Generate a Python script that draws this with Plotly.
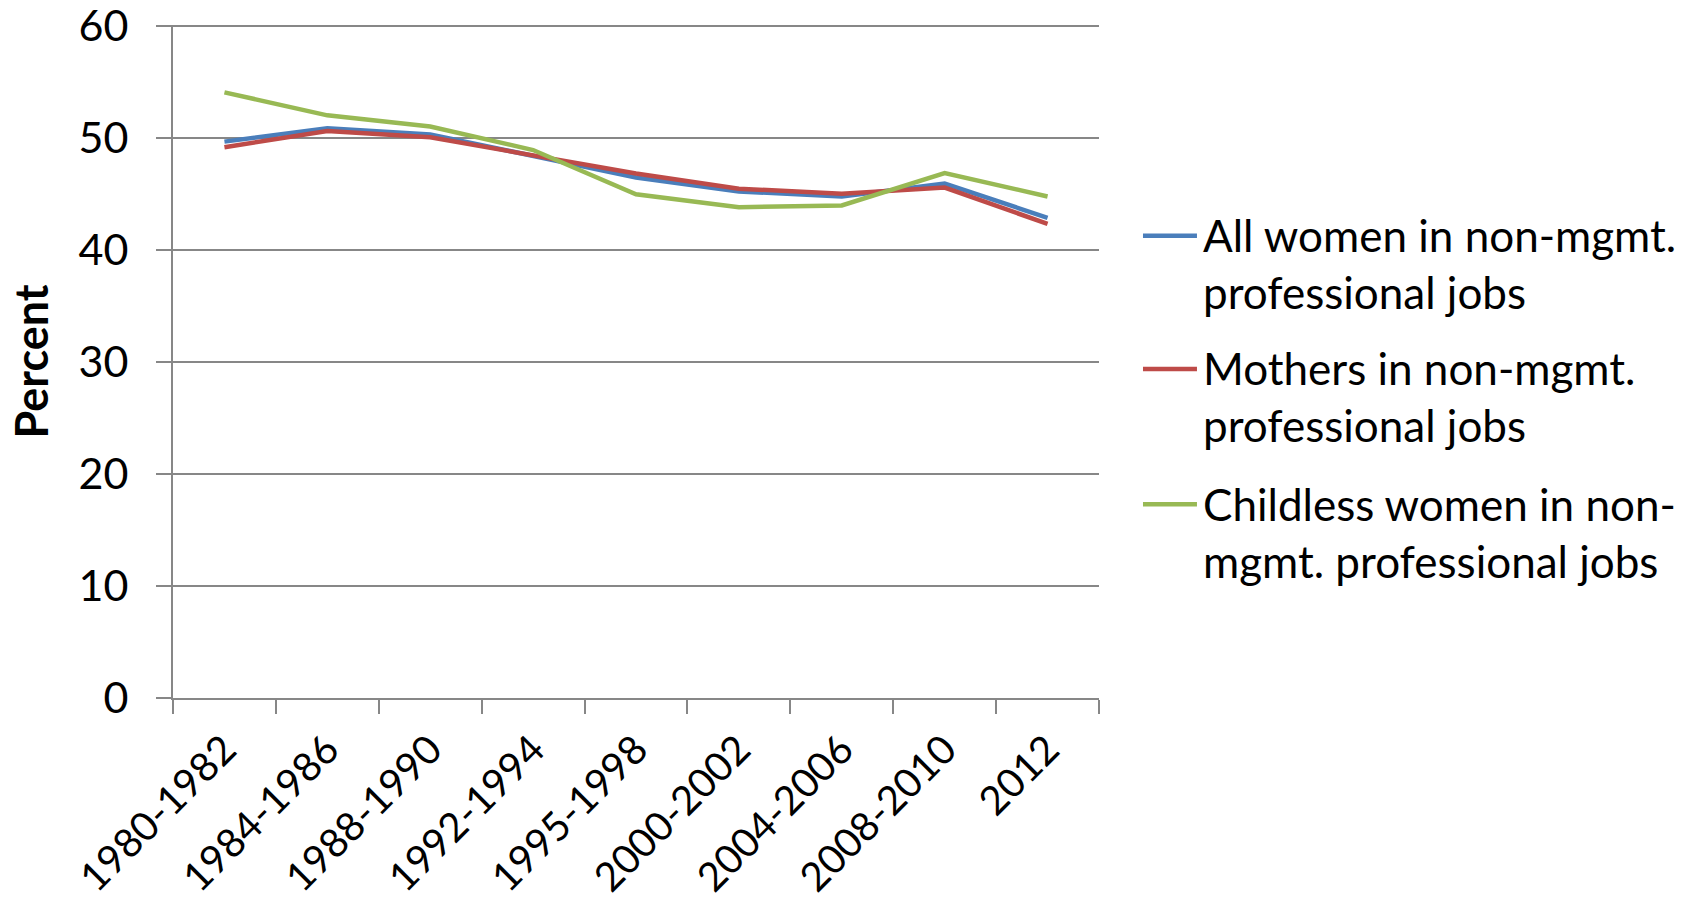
import plotly.graph_objects as go

# Time periods on the x axis
periods = ["1980-1982", "1984-1986", "1988-1990", "1992-1994", "1995-1998",
           "2000-2002", "2004-2006", "2008-2010", "2012"]

# Share (percent) for each group
all_women = [49.7, 50.9, 50.35, 48.45, 46.5, 45.25, 44.8, 45.95, 42.9]
mothers = [49.2, 50.65, 50.1, 48.45, 46.85, 45.5, 45.05, 45.6, 42.35]
childless = [54.1, 52.05, 51.05, 48.95, 45.0, 43.85, 44.0, 46.9, 44.8]

series_names = [
    "All women in non-mgmt.<br>professional jobs",
    "Mothers in non-mgmt.<br>professional jobs",
    "Childless women in non-<br>mgmt. professional jobs",
]
series_colors = ["#4A7EBB", "#BE4B48", "#98B954"]

y_ticks = [0, 10, 20, 30, 40, 50, 60]

FONT = "Lato"
GRID = "#878787"

fig = go.Figure()
for vals, name, color in zip([all_women, mothers, childless], series_names, series_colors):
    fig.add_trace(go.Scatter(
        x=periods, y=vals, mode="lines", name=name,
        line=dict(color=color, width=4.5),
        showlegend=False,
    ))

# Hand-built legend at the right of the plot area
legend_line_y = [0.687, 0.489, 0.288]
legend_text_y = [0.645, 0.4474, 0.2465]
for name, color, ly, ty in zip(series_names, series_colors, legend_line_y, legend_text_y):
    fig.add_shape(type="line", xref="paper", yref="paper",
                  x0=1.0475, x1=1.1058, y0=ly, y1=ly,
                  line=dict(color=color, width=4.5))
    fig.add_annotation(xref="paper", yref="paper", x=1.110, y=ty,
                       xanchor="left", yanchor="middle", align="left",
                       text=name, showarrow=False,
                       font=dict(family=FONT, size=44, color="black"))

fig.update_layout(
    width=1702, height=911,
    margin=dict(l=173, r=603, t=25, b=213),
    paper_bgcolor="white", plot_bgcolor="white",
    font=dict(family=FONT, size=43, color="black"),
    xaxis=dict(
        type="category", range=[-0.5, 8.5], automargin=False,
        tickson="boundaries", ticks="outside", ticklen=14, tickwidth=2, tickcolor=GRID,
        showline=True, linecolor=GRID, linewidth=2,
        showgrid=False, tickangle=-45, ticklabelstandoff=10,
        tickfont=dict(family=FONT, size=40, color="black"),
    ),
    yaxis=dict(
        range=[0, 60.12], tickvals=y_ticks, automargin=False,
        ticks="outside", ticklen=15, tickwidth=2, tickcolor=GRID,
        showline=True, linecolor=GRID, linewidth=2,
        showgrid=True, gridcolor=GRID, gridwidth=2,
        zeroline=False, ticklabelstandoff=19, ticklabeloverflow="allow",
        tickfont=dict(family=FONT, size=43, color="black"),
        title=dict(text="Percent", standoff=16,
                   font=dict(family=FONT, size=45, color="black", weight="bold")),
    ),
)

fig.write_html("out.html")
